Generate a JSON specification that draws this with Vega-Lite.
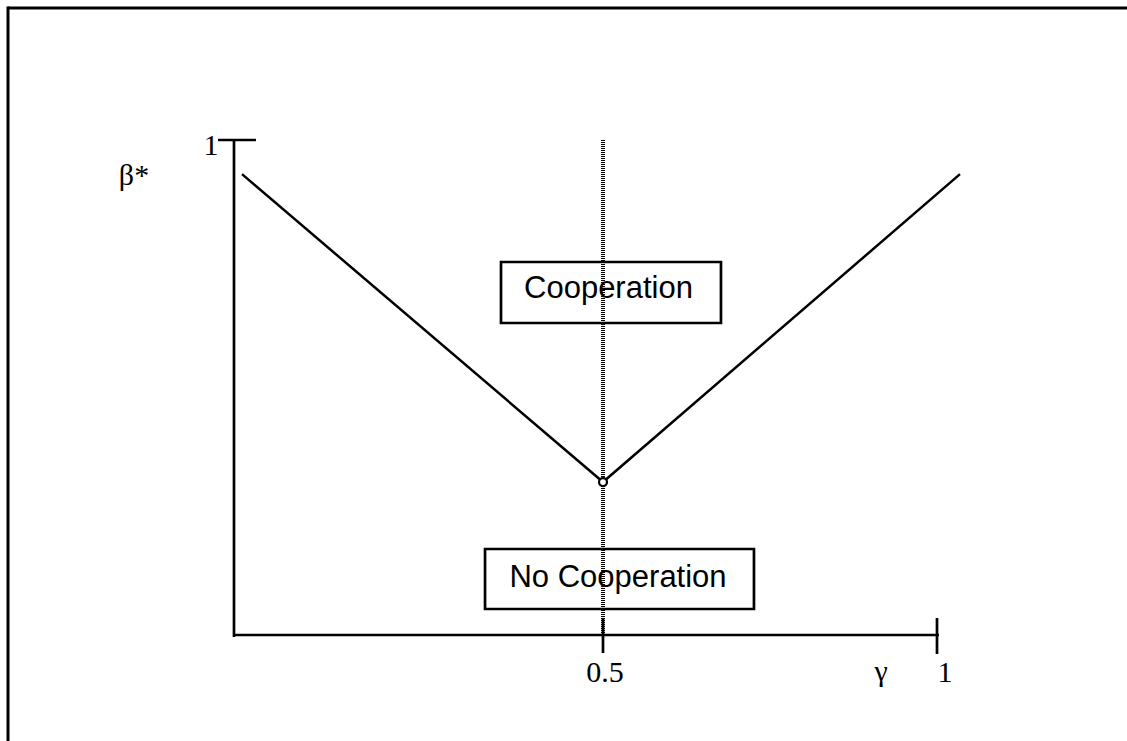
{
  "$schema": "https://vega.github.io/schema/vega-lite/v6.json",
  "width": 1127,
  "height": 741,
  "padding": 0,
  "autosize": {"type": "none"},
  "config": {"view": {"stroke": null}},
  "datasets": {
    "border": [
      {"x": -0.3907, "y": 1.2667, "x2": 1.40, "y2": 1.2667},
      {"x": -0.3907, "y": 1.2697, "x2": -0.3907, "y2": -0.30}
    ],
    "axes": [
      {"x": -0.0524, "y": 1.0, "x2": -0.0524, "y2": -0.004},
      {"x": -0.0763, "y": 1.0, "x2": -0.0195, "y2": 1.0},
      {"x": -0.0524, "y": 0.0, "x2": 1.003, "y2": 0.0},
      {"x": 0.5, "y": 0.0343, "x2": 0.5, "y2": -0.0364},
      {"x": 1.0, "y": 0.0343, "x2": 1.0, "y2": -0.0384}
    ],
    "curve": [
      {"x": -0.0404, "y": 0.931, "o": 1},
      {"x": 0.5, "y": 0.309, "o": 2},
      {"x": 1.0344, "y": 0.931, "o": 3}
    ],
    "boxes": [
      {"x": 0.3473, "x2": 0.6766, "y": 0.7535, "y2": 0.6303},
      {"x": 0.3234, "x2": 0.7260, "y": 0.1737, "y2": 0.0525}
    ],
    "boxlabels": [
      {"x": 0.5082, "y": 0.6808, "label": "Cooperation"},
      {"x": 0.5225, "y": 0.0970, "label": "No Cooperation"}
    ],
    "divider": [
      {"x": 0.5, "y": 1.0, "x2": 0.5, "y2": 0.0}
    ],
    "vertex": [
      {"x": 0.5, "y": 0.309}
    ],
    "serif": [
      {"x": -0.0868, "y": 0.9697, "label": "1"},
      {"x": -0.2021, "y": 0.9091, "label": "β*"},
      {"x": 0.503, "y": -0.0949, "label": "0.5"},
      {"x": 0.9162, "y": -0.0929, "label": "γ"},
      {"x": 1.012, "y": -0.0949, "label": "1"}
    ]
  },
  "layer": [
    {
      "data": {"name": "border"},
      "mark": {"type": "rule", "stroke": "#000000", "strokeWidth": 3, "clip": false},
      "encoding": {
        "x": {"field": "x", "type": "quantitative", "scale": {"domain": [-0.40269, 1.28443], "nice": false, "zero": false}, "axis": null},
        "y": {"field": "y", "type": "quantitative", "scale": {"domain": [-0.21414, 1.28283], "nice": false, "zero": false}, "axis": null},
        "x2": {"field": "x2"},
        "y2": {"field": "y2"}
      }
    },
    {
      "data": {"name": "axes"},
      "mark": {"type": "rule", "stroke": "#000000", "strokeWidth": 2.7},
      "encoding": {
        "x": {"field": "x", "type": "quantitative", "scale": {"domain": [-0.40269, 1.28443], "nice": false, "zero": false}, "axis": null},
        "y": {"field": "y", "type": "quantitative", "scale": {"domain": [-0.21414, 1.28283], "nice": false, "zero": false}, "axis": null},
        "x2": {"field": "x2"},
        "y2": {"field": "y2"}
      }
    },
    {
      "data": {"name": "curve"},
      "mark": {"type": "line", "stroke": "#000000", "strokeWidth": 2.5},
      "encoding": {
        "x": {"field": "x", "type": "quantitative", "scale": {"domain": [-0.40269, 1.28443], "nice": false, "zero": false}, "axis": null},
        "y": {"field": "y", "type": "quantitative", "scale": {"domain": [-0.21414, 1.28283], "nice": false, "zero": false}, "axis": null},
        "order": {"field": "o", "type": "quantitative"}
      }
    },
    {
      "data": {"name": "boxes"},
      "mark": {"type": "rect", "fill": "#ffffff", "stroke": "#000000", "strokeWidth": 2.7},
      "encoding": {
        "x": {"field": "x", "type": "quantitative", "scale": {"domain": [-0.40269, 1.28443], "nice": false, "zero": false}, "axis": null},
        "y": {"field": "y", "type": "quantitative", "scale": {"domain": [-0.21414, 1.28283], "nice": false, "zero": false}, "axis": null},
        "x2": {"field": "x2"},
        "y2": {"field": "y2"}
      }
    },
    {
      "data": {"name": "boxlabels"},
      "mark": {"type": "text", "font": "Liberation Sans", "fontSize": 31, "align": "center", "baseline": "alphabetic", "color": "#000000"},
      "encoding": {
        "x": {"field": "x", "type": "quantitative", "scale": {"domain": [-0.40269, 1.28443], "nice": false, "zero": false}, "axis": null},
        "y": {"field": "y", "type": "quantitative", "scale": {"domain": [-0.21414, 1.28283], "nice": false, "zero": false}, "axis": null},
        "text": {"field": "label"}
      }
    },
    {
      "data": {"name": "divider"},
      "mark": {"type": "rule", "stroke": "#000000", "strokeWidth": 4, "strokeDash": [1, 1]},
      "encoding": {
        "x": {"field": "x", "type": "quantitative", "scale": {"domain": [-0.40269, 1.28443], "nice": false, "zero": false}, "axis": null},
        "y": {"field": "y", "type": "quantitative", "scale": {"domain": [-0.21414, 1.28283], "nice": false, "zero": false}, "axis": null},
        "x2": {"field": "x2"},
        "y2": {"field": "y2"}
      }
    },
    {
      "data": {"name": "vertex"},
      "mark": {"type": "point", "shape": "circle", "size": 64, "filled": false, "fill": "#ffffff", "fillOpacity": 1, "stroke": "#000000", "strokeWidth": 2.2, "opacity": 1},
      "encoding": {
        "x": {"field": "x", "type": "quantitative", "scale": {"domain": [-0.40269, 1.28443], "nice": false, "zero": false}, "axis": null},
        "y": {"field": "y", "type": "quantitative", "scale": {"domain": [-0.21414, 1.28283], "nice": false, "zero": false}, "axis": null}
      }
    },
    {
      "data": {"name": "serif"},
      "mark": {"type": "text", "font": "Liberation Serif", "fontSize": 30, "align": "center", "baseline": "alphabetic", "color": "#000000"},
      "encoding": {
        "x": {"field": "x", "type": "quantitative", "scale": {"domain": [-0.40269, 1.28443], "nice": false, "zero": false}, "axis": null},
        "y": {"field": "y", "type": "quantitative", "scale": {"domain": [-0.21414, 1.28283], "nice": false, "zero": false}, "axis": null},
        "text": {"field": "label"}
      }
    }
  ]
}
